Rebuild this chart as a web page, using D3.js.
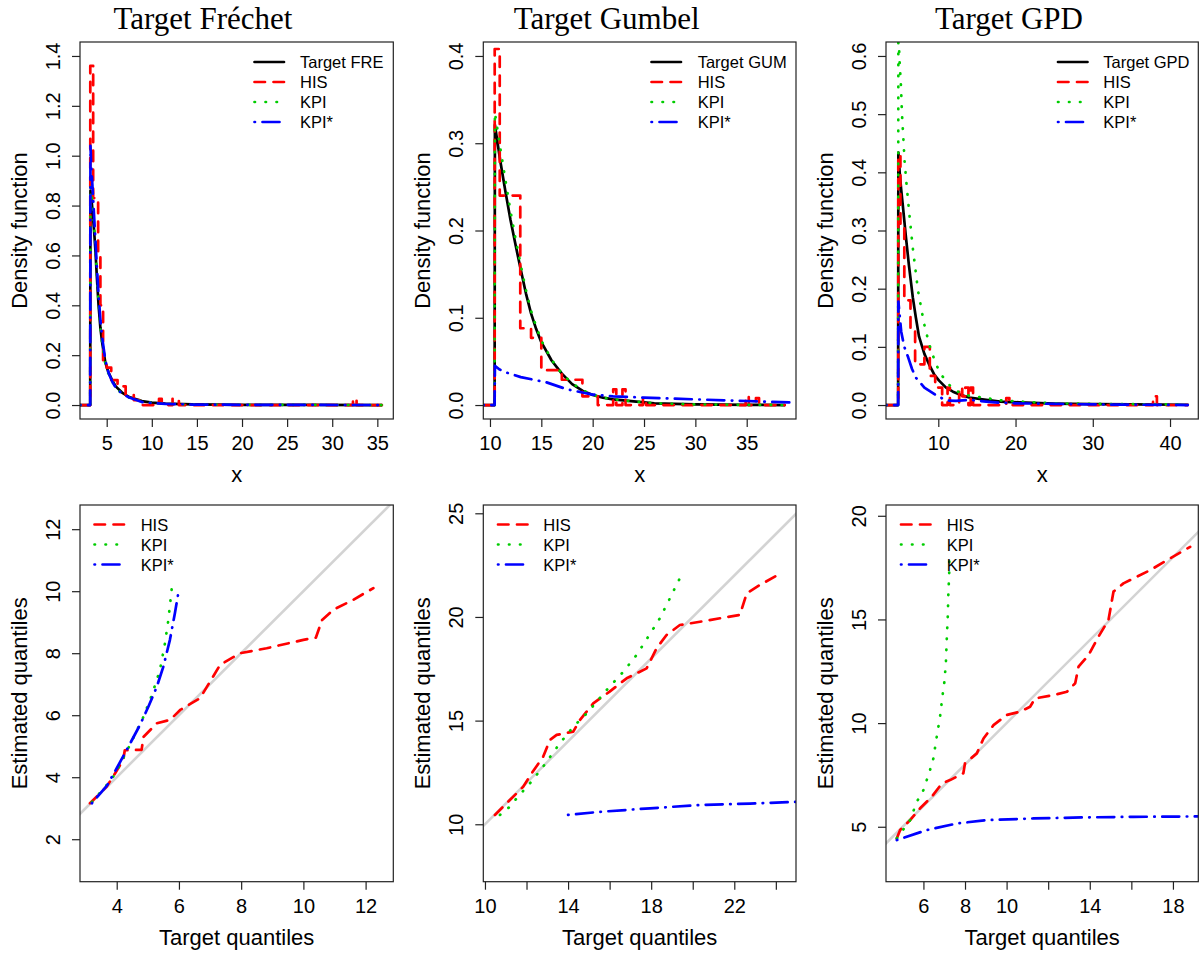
<!DOCTYPE html>
<html><head><meta charset="utf-8">
<script src="https://cdn.jsdelivr.net/npm/d3@7"></script>
<style>body{margin:0;background:#fff} svg{display:block}</style>
</head><body>
<script>
// ---------------- DATA ----------------
// Fréchet densities
const freX      = [2.04, 3.17, 3.2, 3.3, 3.45, 3.6, 3.75, 3.9, 4.1, 4.3, 4.5, 4.85, 5.2, 5.6, 6.0, 6.7, 7.5, 8.9, 10, 11.5, 14.5, 20, 28, 35.5];
const freTarget = [0, 0, 0.86, 0.83, 0.77, 0.70, 0.62, 0.52, 0.40, 0.31, 0.25, 0.17, 0.13, 0.10, 0.075, 0.05, 0.032, 0.016, 0.01, 0.006, 0.003, 0.001, 0.0003, 0];
const freKPI    = [0, 0, 0.88, 0.85, 0.79, 0.72, 0.64, 0.53, 0.41, 0.31, 0.245, 0.165, 0.125, 0.095, 0.07, 0.045, 0.03, 0.014, 0.009, 0.005, 0.002, 0.001, 0.0003, 0];
const freKPIs   = [0, 0, 1.04, 0.95, 0.86, 0.76, 0.66, 0.56, 0.44, 0.34, 0.27, 0.18, 0.13, 0.095, 0.07, 0.045, 0.03, 0.012, 0.008, 0.005, 0.002, 0.001, 0.0003, 0];
const freHisX   = [2.04, 3.18, 3.5, 4.05, 4.3, 4.6, 5.0, 5.5, 6.2, 7.1, 8.0, 9.0, 10.8, 11.1, 12.3, 13.0, 32.3, 32.7, 35.5];
const freHis    = [0, 1.36, 0.83, 0.6, 0.40, 0.17, 0.15, 0.10, 0.075, 0.04, 0.02, 0, 0.025, 0, 0.025, 0, 0.025, 0, 0];

// Gumbel densities
const gumX      = [9.35, 10.45, 10.48, 11, 11.5, 12, 12.5, 13, 13.5, 14, 14.5, 15, 16, 17, 18, 19, 20, 21, 22, 24, 26, 30, 35, 38.7];
const gumTarget = [0, 0, 0.321, 0.28, 0.245, 0.212, 0.183, 0.155, 0.128, 0.105, 0.087, 0.072, 0.051, 0.036, 0.024, 0.0165, 0.0115, 0.0085, 0.0065, 0.0042, 0.002, 0.0007, 0.0002, 0];
const gumKPI    = [0, 0, 0.335, 0.295, 0.258, 0.222, 0.19, 0.16, 0.132, 0.108, 0.09, 0.074, 0.052, 0.036, 0.025, 0.017, 0.012, 0.0085, 0.0065, 0.0042, 0.002, 0.0007, 0.0002, 0];
const gumKPIsX  = [9.35, 10.45, 10.48, 10.9, 11.4, 13, 15.5, 17.5, 20, 22, 25, 30, 35, 39.2];
const gumKPIs   = [0, 0, 0.045, 0.041, 0.038, 0.032, 0.026, 0.018, 0.012, 0.010, 0.0085, 0.0065, 0.0046, 0.003];
const gumHisX   = [9.35, 10.46, 10.95, 12.95, 14.0, 15.0, 17.0, 19.0, 20.5, 22.0, 22.3, 22.9, 23.2, 24.9, 25.2, 34.9, 35.2, 35.9, 36.2, 38.7];
const gumHis    = [0, 0.408, 0.24, 0.088, 0.077, 0.04, 0.029, 0.01, 0, 0.018, 0, 0.018, 0, 0.008, 0, 0.01, 0, 0.008, 0, 0];

// GPD densities
const gpdX      = [3.23, 4.8, 4.83, 5.0, 5.2, 5.4, 5.8, 6.2, 6.7, 7.1, 7.5, 8.2, 8.8, 9.5, 10.1, 11, 11.9, 13, 14, 16.2, 18, 20.5, 25, 30, 35, 42.3];
const gpdTarget = [0, 0, 0.434, 0.40, 0.37, 0.344, 0.29, 0.24, 0.185, 0.15, 0.118, 0.088, 0.07, 0.052, 0.042, 0.030, 0.023, 0.017, 0.013, 0.009, 0.006, 0.0046, 0.0025, 0.0015, 0.001, 0.0005];
const gpdKPIX   = [3.23, 4.8, 4.83, 4.95, 5.16, 5.3, 5.47, 5.63, 5.85, 6.24, 6.68, 7.37, 8.14, 8.83, 9.69, 10.5, 11.9, 13, 14, 16.2, 18, 20.5, 25, 30, 35, 42.3];
const gpdKPI    = [0, 0, 0.70, 0.60, 0.55, 0.50, 0.46, 0.42, 0.385, 0.33, 0.272, 0.197, 0.141, 0.104, 0.07, 0.05, 0.027, 0.02, 0.016, 0.012, 0.008, 0.006, 0.003, 0.002, 0.0015, 0.001];
const gpdKPIsX  = [3.23, 4.8, 4.83, 5.2, 5.6, 6.1, 6.6, 7.1, 8.2, 9.7, 11, 12.3, 14, 16.2, 18, 20, 25, 30, 42.3];
const gpdKPIs   = [0, 0, 0.178, 0.126, 0.10, 0.082, 0.062, 0.047, 0.03, 0.017, 0.008, 0.007, 0.009, 0.006, 0.004, 0.003, 0.002, 0.001, 0];
const gpdHisX   = [3.23, 4.82, 5.1, 5.6, 6.4, 7.0, 7.6, 8.2, 8.9, 9.6, 10.5, 11.2, 11.5, 12.7, 13.1, 13.5, 13.9, 14.2, 14.5, 18.8, 19.2, 37.8, 38.3, 42.3];
const gpdHis    = [0, 0.43, 0.31, 0.18, 0.13, 0.075, 0.07, 0.10, 0.05, 0.03, 0, 0.03, 0, 0.03, 0.015, 0.03, 0, 0.03, 0, 0.012, 0, 0.015, 0, 0];

// Quantile plots: Fréchet
const fqHisX  = [3.14, 3.68, 3.95, 4.21, 4.26, 4.53, 4.8, 4.86, 5.29, 5.72, 6.04, 6.68, 7.1, 7.32, 7.96, 8.82, 10.0, 10.4, 10.6, 10.96, 11.6, 12.25];
const fqHisY  = [3.16, 3.70, 4.13, 4.56, 4.87, 4.88, 4.88, 5.3, 5.74, 5.85, 6.17, 6.55, 7.25, 7.62, 8.0, 8.16, 8.43, 8.5, 9.07, 9.4, 9.72, 10.1];
const fqKPIX  = [3.2, 3.68, 3.95, 4.37, 4.86, 5.13, 5.39, 5.55, 5.66, 5.77];
const fqKPIY  = [3.2, 3.75, 4.1, 4.93, 5.95, 6.65, 7.46, 8.32, 9.07, 10.1];
const fqKPIsX = [3.2, 3.68, 4.0, 4.32, 4.75, 5.02, 5.29, 5.5, 5.71, 5.87, 5.98];
const fqKPIsY = [3.16, 3.72, 4.29, 4.88, 5.69, 6.28, 6.92, 7.57, 8.43, 9.29, 9.94];

// Quantile plots: Gumbel
const gqHisX  = [10.48, 11.2, 11.84, 12.25, 12.8, 13.13, 13.45, 14.25, 14.57, 15.21, 16.0, 16.82, 17.78, 18.26, 18.74, 19.38, 20.35, 22.27, 22.6, 23.23, 24.1];
const gqHisY  = [10.45, 11.17, 11.81, 12.46, 13.26, 14.07, 14.31, 14.47, 15.03, 15.83, 16.4, 17.04, 17.52, 18.49, 19.13, 19.61, 19.77, 20.1, 21.14, 21.54, 22.03];
const gqKPIX  = [10.72, 11.2, 11.52, 12.17, 12.8, 13.6, 14.25, 14.9, 15.86, 16.66, 17.3, 17.86, 18.42, 18.9, 19.38];
const gqKPIY  = [10.45, 10.85, 11.25, 11.98, 12.78, 13.9, 14.7, 15.35, 16.48, 17.36, 18.17, 19.05, 19.94, 20.9, 21.87];
const gqKPIsX = [14.0, 15.53, 17.94, 20.35, 22.75, 25.5];
const gqKPIsY = [10.45, 10.6, 10.77, 10.93, 11.0, 11.1];

// Quantile plots: GPD
const pqHisX  = [4.72, 4.88, 5.36, 5.84, 6.4, 6.89, 7.28, 7.92, 8.0, 8.57, 8.89, 9.37, 10.0, 10.65, 11.13, 11.37, 12.26, 12.9, 13.3, 13.46, 13.94, 14.42, 14.9, 15.14, 15.62, 16.91, 17.87, 18.83];
const pqHisY  = [4.44, 4.84, 5.32, 5.89, 6.45, 7.09, 7.25, 7.58, 8.06, 8.54, 9.26, 9.9, 10.39, 10.55, 10.79, 11.19, 11.35, 11.51, 11.92, 12.72, 13.28, 14.17, 14.97, 16.34, 16.74, 17.38, 17.95, 18.5];
const pqKPIX  = [4.72, 5.36, 5.68, 6.0, 6.32, 6.48, 6.64, 6.8, 6.91, 7.0, 7.08, 7.12, 7.17, 7.2, 7.24, 7.25];
const pqKPIY  = [4.44, 5.32, 6.2, 6.77, 7.74, 8.3, 9.34, 10.3, 11.27, 11.92, 12.88, 14.0, 15.13, 16.26, 17.22, 18.27];
const pqKPIsX = [4.72, 6.16, 7.61, 9.05, 11.29, 13.7, 16.1, 19.5];
const pqKPIsY = [4.36, 4.84, 5.16, 5.32, 5.4, 5.45, 5.48, 5.5];

// Labels and ticks
const titles = ["Target Fréchet", "Target Gumbel", "Target GPD"];
const targetNames = ["Target FRE", "Target GUM", "Target GPD"];
const methodNames = ["HIS", "KPI", "KPI*"];
const densTicksX = [[5,10,15,20,25,30,35],[10,15,20,25,30,35],[10,20,30,40]];
const densTicksY = [[0,0.2,0.4,0.6,0.8,1.0,1.2,1.4],[0,0.1,0.2,0.3,0.4],[0,0.1,0.2,0.3,0.4,0.5,0.6]];
const qqTicksX = [[4,6,8,10,12],[10,12,14,16,18,20,22,24],[6,8,10,12,14,16,18]];
const qqLabelsX = [[4,6,8,10,12],[10,14,18,22],[6,8,10,14,18]];
const qqTicksY = [[2,4,6,8,10,12],[10,15,20,25],[5,10,15,20]];

// ---------------- DRAWING ----------------
const W = 1199, H = 954;
const svg = d3.select("body").append("svg").attr("width", W).attr("height", H)
  .style("background", "#fff");
const defs = svg.append("defs");
const SANS = "'Liberation Sans', Arial, Helvetica, sans-serif";
const SERIF = "'Liberation Serif', 'Times New Roman', serif";
const LW = 2.7;
const STY = {
  target: {color: "#000000", dash: null},
  his:    {color: "#ff0000", dash: "10.5,8.5"},
  kpi:    {color: "#00cd00", dash: "0.5,10.5"},
  kpis:   {color: "#0000ff", dash: "0.5,7.5,17,7.5"}
};

let clipN = 0;
function drawPanel(p) {
  const [bx0, bx1, by0, by1] = p.box;
  const x = d3.scaleLinear().domain(p.xd).range([bx0, bx1]);
  const y = d3.scaleLinear().domain(p.yd).range([by1, by0]);
  const id = "clip" + (clipN++);
  defs.append("clipPath").attr("id", id).append("rect")
    .attr("x", bx0).attr("y", by0).attr("width", bx1 - bx0).attr("height", by1 - by0);
  const g = svg.append("g");
  const plot = g.append("g").attr("clip-path", `url(#${id})`);

  if (p.diag) {
    const lo = Math.min(p.xd[0], p.yd[0]) - 1, hi = Math.max(p.xd[1], p.yd[1]) + 1;
    plot.append("line").attr("x1", x(lo)).attr("y1", y(lo)).attr("x2", x(hi)).attr("y2", y(hi))
      .attr("stroke", "#d3d3d3").attr("stroke-width", 2.6);
  }
  p.series.forEach(s => {
    const st = STY[s.kind];
    const pts = s.x.map((v, i) => [v, s.y[i]]);
    const line = d3.line().x(d => x(d[0])).y(d => y(d[1]))
      .curve(s.step ? d3.curveStepAfter : d3.curveLinear);
    plot.append("path").attr("d", line(pts)).attr("fill", "none")
      .attr("stroke", st.color).attr("stroke-width", LW)
      .attr("stroke-linecap", "round").attr("stroke-linejoin", "round")
      .attr("stroke-dasharray", st.dash);
  });

  // axes
  const fmt = p.fmt;
  const xa = g.append("g").attr("transform", `translate(0,${by1})`)
    .call(d3.axisBottom(x).tickValues(p.xt).tickSize(8)
      .tickFormat(d => (p.xl ? p.xl.includes(d) : true) ? fmt(d) : ""));
  const ya = g.append("g").attr("transform", `translate(${bx0},0)`)
    .call(d3.axisLeft(y).tickValues(p.yt).tickSize(8).tickFormat(p.yfmt));
  [xa, ya].forEach(a => {
    a.select(".domain").remove();
    a.attr("font-family", SANS).attr("font-size", 20);
    a.selectAll("line").attr("stroke", "#222").attr("stroke-width", 1.2);
    a.selectAll("text").attr("fill", "#000");
  });
  xa.selectAll("text").attr("y", 31).attr("dy", null);
  ya.selectAll("text").attr("x", null).attr("dy", null)
    .attr("text-anchor", "middle").attr("transform", "translate(-20,0) rotate(-90)");

  // box
  g.append("rect").attr("x", bx0).attr("y", by0).attr("width", bx1 - bx0).attr("height", by1 - by0)
    .attr("fill", "none").attr("stroke", "#222").attr("stroke-width", 1.2);

  // axis titles
  g.append("text").attr("x", (bx0 + bx1) / 2).attr("y", by1 + 63).attr("text-anchor", "middle")
    .attr("font-family", SANS).attr("font-size", 22).text(p.xlab);
  g.append("text").attr("transform", `translate(${bx0 - 53},${(by0 + by1) / 2}) rotate(-90)`)
    .attr("text-anchor", "middle").attr("font-family", SANS).attr("font-size", 22).text(p.ylab);

  if (p.title) {
    g.append("text").attr("x", p.titleX).attr("y", 28.5).attr("text-anchor", "middle")
      .attr("font-family", SERIF).attr("font-size", 31).text(p.title);
  }

  // legend
  p.legend.items.forEach((it, i) => {
    const st = STY[it.kind];
    const ry = p.legend.y + i * 20;
    g.append("line").attr("x1", p.legend.lx[0]).attr("x2", p.legend.lx[1]).attr("y1", ry).attr("y2", ry)
      .attr("stroke", st.color).attr("stroke-width", LW).attr("stroke-linecap", "round")
      .attr("stroke-dasharray", st.dash);
    g.append("text").attr("x", p.legend.tx).attr("y", ry + 6).attr("font-family", SANS)
      .attr("font-size", 16.5).text(it.label);
  });
}

const topBoxes = [[80, 393.3, 42, 419], [483.3, 796, 42, 419], [886, 1198.3, 42, 419]];
const botBoxes = [[80, 393.3, 505, 881.7], [483.3, 796, 505, 881.7], [886, 1198.3, 505, 881.7]];
const topXd = [[2.04, 36.77], [9.35, 39.8], [3.23, 43.66]];
const topYd = [[-0.056, 1.456], [-0.016, 0.416], [-0.024, 0.624]];
const botXd = [[2.82, 12.89], [9.92, 24.97], [4.2, 19.22]];
const botYd = [[0.63, 12.78], [7.23, 25.4], [2.35, 20.52]];
const titleXs = [203, 606.7, 1009];
const legLineTop = [[254.5, 284], [651.5, 681], [1058, 1087.5]];
const legTextTop = [300, 697.7, 1103.3];
const legLineBot = [[94.5, 125], [498, 527.5], [901, 931.5]];
const legTextBot = [140.7, 543.3, 946.7];

const densSeries = [
  [{kind:"target", x:freX, y:freTarget}, {kind:"his", x:freHisX, y:freHis, step:true},
   {kind:"kpi", x:freX, y:freKPI}, {kind:"kpis", x:freX, y:freKPIs}],
  [{kind:"target", x:gumX, y:gumTarget}, {kind:"his", x:gumHisX, y:gumHis, step:true},
   {kind:"kpi", x:gumX, y:gumKPI}, {kind:"kpis", x:gumKPIsX, y:gumKPIs}],
  [{kind:"target", x:gpdX, y:gpdTarget}, {kind:"his", x:gpdHisX, y:gpdHis, step:true},
   {kind:"kpi", x:gpdKPIX, y:gpdKPI}, {kind:"kpis", x:gpdKPIsX, y:gpdKPIs}]
];
const qqSeries = [
  [{kind:"his", x:fqHisX, y:fqHisY}, {kind:"kpi", x:fqKPIX, y:fqKPIY}, {kind:"kpis", x:fqKPIsX, y:fqKPIsY}],
  [{kind:"his", x:gqHisX, y:gqHisY}, {kind:"kpi", x:gqKPIX, y:gqKPIY}, {kind:"kpis", x:gqKPIsX, y:gqKPIsY}],
  [{kind:"his", x:pqHisX, y:pqHisY}, {kind:"kpi", x:pqKPIX, y:pqKPIY}, {kind:"kpis", x:pqKPIsX, y:pqKPIsY}]
];

for (let k = 0; k < 3; k++) {
  drawPanel({
    box: topBoxes[k], xd: topXd[k], yd: topYd[k],
    xt: densTicksX[k], yt: densTicksY[k],
    fmt: d3.format("d"), yfmt: d3.format(".1f"),
    xlab: "x", ylab: "Density function",
    title: titles[k], titleX: titleXs[k],
    series: densSeries[k],
    legend: {lx: legLineTop[k], tx: legTextTop[k], y: 62,
      items: [{kind:"target", label: targetNames[k]}, {kind:"his", label: methodNames[0]},
              {kind:"kpi", label: methodNames[1]}, {kind:"kpis", label: methodNames[2]}]}
  });
  drawPanel({
    box: botBoxes[k], xd: botXd[k], yd: botYd[k],
    xt: qqTicksX[k], xl: qqLabelsX[k], yt: qqTicksY[k],
    fmt: d3.format("d"), yfmt: d3.format("d"),
    xlab: "Target quantiles", ylab: "Estimated quantiles",
    diag: true,
    series: qqSeries[k],
    legend: {lx: legLineBot[k], tx: legTextBot[k], y: 524.5,
      items: [{kind:"his", label: methodNames[0]}, {kind:"kpi", label: methodNames[1]},
              {kind:"kpis", label: methodNames[2]}]}
  });
}
</script>
</body></html>
